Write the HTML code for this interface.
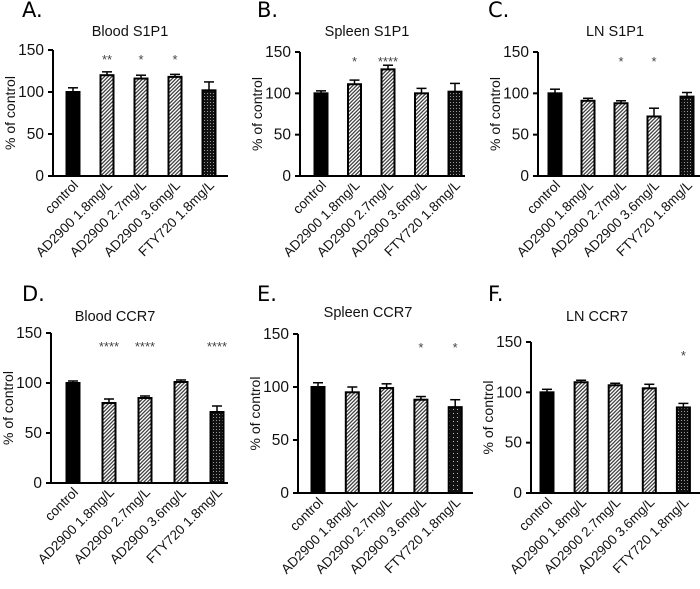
<!DOCTYPE html>
<html><head><meta charset="utf-8">
<style>
html,body{margin:0;padding:0;background:#fff;}
svg{display:block;font-family:"Liberation Sans",Arial,sans-serif;}
</style></head>
<body>
<svg id="fig" width="700" height="589" viewBox="0 0 700 589" xmlns="http://www.w3.org/2000/svg">
<defs>
<pattern id="hatch" width="2.6" height="2.6" patternUnits="userSpaceOnUse" patternTransform="rotate(45)">
<rect width="2.6" height="2.6" fill="#fff"/><rect width="1.3" height="2.6" fill="#444"/>
</pattern>
<pattern id="check" width="3" height="3" patternUnits="userSpaceOnUse">
<rect width="3" height="3" fill="#111"/><rect width="1" height="1" fill="#999"/>
</pattern>
<pattern id="dots" width="4" height="4" patternUnits="userSpaceOnUse">
<rect width="4" height="4" fill="#111"/><rect x="1" y="1" width="1" height="1" fill="#bbb"/>
</pattern>
</defs>
</svg>
<script>
const categories = ["control","AD2900 1.8mg/L","AD2900 2.7mg/L","AD2900 3.6mg/L","FTY720 1.8mg/L"];
const yTicks = [0,50,100,150];
const panelTitles = ["Blood  S1P1","Spleen  S1P1","LN  S1P1","Blood  CCR7","Spleen  CCR7","LN  CCR7"];
const panelLetters = ["A.","B.","C.","D.","E.","F."];
const valuesA = [100,120,116,118,102];
const errorsA = [5,4,4,3,10];
const starsA = ["","**","*","*",""];
const valuesB = [100,111,129,100,102];
const errorsB = [3,5,5,6,10];
const starsB = ["","*","****","",""];
const valuesC = [100,91,88,72,96];
const errorsC = [5,3,3,10,5];
const starsC = ["","","*","*",""];
const valuesD = [100,80,85,101,71];
const errorsD = [2,4,2,2,6];
const starsD = ["","****","****","","****"];
const valuesE = [100,95,99,88,81];
const errorsE = [4,5,4,3,7];
const starsE = ["","","","*","*"];
const valuesF = [100,110,107,104,85];
const errorsF = [3,2,2,4,4];
const starsF = ["","","","","*"];

const allValues=[valuesA,valuesB,valuesC,valuesD,valuesE,valuesF];
const allErrors=[errorsA,errorsB,errorsC,errorsD,errorsE,errorsF];
const allStars=[starsA,starsB,starsC,starsD,starsE,starsF];
const layout=[
 {ax:53,yt:50,yb:176,xe:228,c0:73,sp:34,tx:130,ty:36,lx:22,ly:17},
 {ax:300,yt:52,yb:176,xe:465,c0:321,sp:33.5,tx:367,ty:36,lx:257,ly:17},
 {ax:538,yt:52,yb:176,xe:700,c0:555,sp:33,tx:615,ty:36,lx:488,ly:17},
 {ax:51,yt:333,yb:483,xe:228,c0:73,sp:36,tx:115,ty:321,lx:22,ly:301},
 {ax:298,yt:334,yb:493,xe:473,c0:318,sp:34.3,tx:368,ty:317,lx:257,ly:301},
 {ax:531,yt:342,yb:493,xe:700,c0:547,sp:34.1,tx:597,ty:321,lx:488,ly:301}
];
const fills=["#000","url(#hatch)","url(#hatch)","url(#hatch)","url(#check)"];
const svg=document.getElementById('fig');
const NS="http://www.w3.org/2000/svg";
function mk(tag,attrs,parent){const e=document.createElementNS(NS,tag);for(const k in attrs)e.setAttribute(k,attrs[k]);(parent||svg).appendChild(e);return e;}

layout.forEach((L,p)=>{
  const g=mk('g',{});
  
  
  const yScale=v=>L.yb-(v/150)*(L.yb-L.yt);
  const xScale=i=>L.c0+i*L.sp;
  const letter=mk('text',{x:L.lx,y:L.ly,'font-size':21,fill:'#000','font-family':'"DejaVu Sans",sans-serif'},g);
  letter.textContent=panelLetters[p];
  
  
  const t=mk('text',{x:L.tx,y:L.ty,'font-size':14.5,'text-anchor':'middle',fill:'#111'},g);
  t.textContent=panelTitles[p];
  
  
  const yt=mk('text',{transform:`translate(${L.ax-38},${(L.yt+L.yb)/2}) rotate(-90)`,'font-size':14,'text-anchor':'middle',fill:'#111'},g);
  yt.textContent="% of control";
  
  
  allValues[p].forEach((v,i)=>{
    const cx=xScale(i), w=13, top=yScale(v), errTop=yScale(v+allErrors[p][i]);
    const el=mk('line',{x1:cx,x2:cx,y1:top,y2:errTop,stroke:'#000','stroke-width':1.5},g);
    
    
    const cap=mk('line',{x1:cx-5,x2:cx+5,y1:errTop,y2:errTop,stroke:'#000','stroke-width':1.5},g);
    
    
    const r=mk('rect',{x:cx-w/2,y:top,width:w,height:L.yb-top,fill:(i===4&&p===4)?'url(#dots)':fills[i],stroke:'#000','stroke-width':2},g);
    
    
    if(allStars[p][i]){
      const s=mk('text',{x:cx,y:L.yt+(p<3?14:18),'font-size':13,'text-anchor':'middle',fill:'#444'},g);
      s.textContent=allStars[p][i];
      
      
    }
    const xl=mk('text',{transform:`translate(${cx+6},${L.yb+10}) rotate(-45)`,'font-size':13.5,'text-anchor':'end',fill:'#111'},g);
    xl.textContent=categories[i];
    
    
  });
  const ya=mk('line',{x1:L.ax,x2:L.ax,y1:L.yt,y2:L.yb,stroke:'#000','stroke-width':2},g);
  
  
  const xa=mk('line',{x1:L.ax-5,x2:L.xe,y1:L.yb,y2:L.yb,stroke:'#000','stroke-width':2},g);
  
  
  yTicks.forEach(tv=>{
    const y=yScale(tv);
    const tk=mk('line',{x1:L.ax-5,x2:L.ax,y1:y,y2:y,stroke:'#000','stroke-width':2},g);
    
    
    const tl=mk('text',{x:L.ax-9,y:y+5,'font-size':15.5,'text-anchor':'end',fill:'#111'},g);
    tl.textContent=tv;
    
    
  });
});
</script>
</body></html>
